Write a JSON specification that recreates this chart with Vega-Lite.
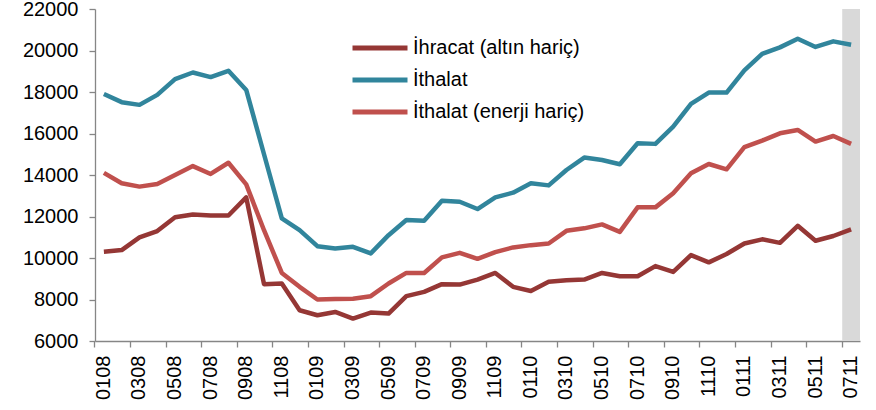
{
  "$schema": "https://vega.github.io/schema/vega-lite/v6.json",
  "width": 765,
  "height": 332,
  "autosize": "none",
  "padding": {"left": 95, "top": 9, "right": 16, "bottom": 69},
  "config": {"view": {"stroke": null}, "font": "Liberation Sans"},
  "data": {
    "values": [
      {"m": "0108", "İhracat (altın hariç)": 10300, "İthalat": 17900, "İthalat (enerji hariç)": 14100},
      {"m": "0208", "İhracat (altın hariç)": 10380, "İthalat": 17510, "İthalat (enerji hariç)": 13600},
      {"m": "0308", "İhracat (altın hariç)": 10990, "İthalat": 17380, "İthalat (enerji hariç)": 13440},
      {"m": "0408", "İhracat (altın hariç)": 11300, "İthalat": 17860, "İthalat (enerji hariç)": 13570},
      {"m": "0508", "İhracat (altın hariç)": 11960, "İthalat": 18620, "İthalat (enerji hariç)": 14000},
      {"m": "0608", "İhracat (altın hariç)": 12100, "İthalat": 18940, "İthalat (enerji hariç)": 14430},
      {"m": "0708", "İhracat (altın hariç)": 12050, "İthalat": 18720, "İthalat (enerji hariç)": 14050},
      {"m": "0808", "İhracat (altın hariç)": 12050, "İthalat": 19020, "İthalat (enerji hariç)": 14590},
      {"m": "0908", "İhracat (altın hariç)": 12920, "İthalat": 18100, "İthalat (enerji hariç)": 13550},
      {"m": "1008", "İhracat (altın hariç)": 8740, "İthalat": 15000, "İthalat (enerji hariç)": 11340},
      {"m": "1108", "İhracat (altın hariç)": 8770, "İthalat": 11910, "İthalat (enerji hariç)": 9280},
      {"m": "1208", "İhracat (altın hariç)": 7480, "İthalat": 11345, "İthalat (enerji hariç)": 8610},
      {"m": "0109", "İhracat (altın hariç)": 7240, "İthalat": 10570, "İthalat (enerji hariç)": 8000},
      {"m": "0209", "İhracat (altın hariç)": 7400, "İthalat": 10460, "İthalat (enerji hariç)": 8020},
      {"m": "0309", "İhracat (altın hariç)": 7080, "İthalat": 10540, "İthalat (enerji hariç)": 8040},
      {"m": "0409", "İhracat (altın hariç)": 7370, "İthalat": 10220, "İthalat (enerji hariç)": 8160},
      {"m": "0509", "İhracat (altın hariç)": 7320, "İthalat": 11100, "İthalat (enerji hariç)": 8770},
      {"m": "0609", "İhracat (altın hariç)": 8160, "İthalat": 11830, "İthalat (enerji hariç)": 9280},
      {"m": "0709", "İhracat (altın hariç)": 8370, "İthalat": 11790, "İthalat (enerji hariç)": 9280},
      {"m": "0809", "İhracat (altın hariç)": 8740, "İthalat": 12760, "İthalat (enerji hariç)": 10030},
      {"m": "0909", "İhracat (altın hariç)": 8720, "İthalat": 12710, "İthalat (enerji hariç)": 10250},
      {"m": "1009", "İhracat (altın hariç)": 8960, "İthalat": 12360, "İthalat (enerji hariç)": 9960},
      {"m": "1109", "İhracat (altın hariç)": 9280, "İthalat": 12920, "İthalat (enerji hariç)": 10280},
      {"m": "1209", "İhracat (altın hariç)": 8610, "İthalat": 13150, "İthalat (enerji hariç)": 10510},
      {"m": "0110", "İhracat (altın hariç)": 8410, "İthalat": 13600, "İthalat (enerji hariç)": 10620},
      {"m": "0210", "İhracat (altın hariç)": 8850, "İthalat": 13500, "İthalat (enerji hariç)": 10700},
      {"m": "0310", "İhracat (altın hariç)": 8930, "İthalat": 14240, "İthalat (enerji hariç)": 11310},
      {"m": "0410", "İhracat (altın hariç)": 8960, "İthalat": 14840, "İthalat (enerji hariç)": 11430},
      {"m": "0510", "İhracat (altın hariç)": 9280, "İthalat": 14720, "İthalat (enerji hariç)": 11620},
      {"m": "0610", "İhracat (altın hariç)": 9120, "İthalat": 14520, "İthalat (enerji hariç)": 11260},
      {"m": "0710", "İhracat (altın hariç)": 9120, "İthalat": 15530, "İthalat (enerji hariç)": 12440},
      {"m": "0810", "İhracat (altın hariç)": 9610, "İthalat": 15500, "İthalat (enerji hariç)": 12440},
      {"m": "0910", "İhracat (altın hariç)": 9330, "İthalat": 16330, "İthalat (enerji hariç)": 13120},
      {"m": "1010", "İhracat (altın hariç)": 10140, "İthalat": 17430, "İthalat (enerji hariç)": 14080},
      {"m": "1110", "İhracat (altın hariç)": 9790, "İthalat": 17970, "İthalat (enerji hariç)": 14530},
      {"m": "1210", "İhracat (altın hariç)": 10190, "İthalat": 17970, "İthalat (enerji hariç)": 14275},
      {"m": "0111", "İhracat (altın hariç)": 10700, "İthalat": 19040, "İthalat (enerji hariç)": 15340},
      {"m": "0211", "İhracat (altın hariç)": 10900, "İthalat": 19840, "İthalat (enerji hariç)": 15660},
      {"m": "0311", "İhracat (altın hariç)": 10730, "İthalat": 20150, "İthalat (enerji hariç)": 16010},
      {"m": "0411", "İhracat (altın hariç)": 11550, "İthalat": 20570, "İthalat (enerji hariç)": 16170},
      {"m": "0511", "İhracat (altın hariç)": 10830, "İthalat": 20170, "İthalat (enerji hariç)": 15610},
      {"m": "0611", "İhracat (altın hariç)": 11060, "İthalat": 20440, "İthalat (enerji hariç)": 15880},
      {"m": "0711", "İhracat (altın hariç)": 11380, "İthalat": 20280, "İthalat (enerji hariç)": 15500}
    ]
  },
  "transform": [
    {"fold": ["İhracat (altın hariç)", "İthalat", "İthalat (enerji hariç)"], "as": ["s", "v"]}
  ],
  "encoding": {
    "x": {
      "field": "m",
      "type": "ordinal",
      "sort": null,
      "scale": {
        "paddingInner": 0,
        "paddingOuter": 0,
        "domain": ["0108","0208","0308","0408","0508","0608","0708","0808","0908","1008","1108","1208","0109","0209","0309","0409","0509","0609","0709","0809","0909","1009","1109","1209","0110","0210","0310","0410","0510","0610","0710","0810","0910","1010","1110","1210","0111","0211","0311","0411","0511","0611","0711"]
      },
      "axis": {
        "title": null,
        "bandPosition": 0,
        "labelExpr": "toNumber(slice(datum.value, 0, 2)) % 2 == 1 ? datum.value : ''",
        "tickOpacity": {"condition": {"test": "toNumber(slice(datum.value, 0, 2)) % 2 == 0", "value": 0}, "value": 1},
        "labelAngle": -90,
        "labelOverlap": false,
        "labelBound": false,
        "labelFlush": false,
        "labelFontSize": 20,
        "labelColor": "#000000",
        "labelPadding": 8,
        "tickSize": 6,
        "tickColor": "#868686",
        "domainColor": "#868686",
        "domainWidth": 1.3,
        "tickWidth": 1.3
      }
    }
  },
  "layer": [
    {
      "transform": [{"filter": "datum.m == '0711' && datum.s == 'İthalat'"}],
      "mark": {"type": "bar", "color": "#D9D9D9"},
      "encoding": {}
    },
    {
      "mark": {"type": "line", "strokeWidth": 4.5, "strokeJoin": "round"},
      "encoding": {
        "y": {
          "field": "v",
          "type": "quantitative",
          "scale": {"domain": [6000, 22000], "nice": false, "zero": false},
          "axis": {
            "title": null,
            "format": "d",
            "values": [6000, 8000, 10000, 12000, 14000, 16000, 18000, 20000, 22000],
            "grid": false,
            "labelFontSize": 20,
            "labelColor": "#000000",
            "labelPadding": 11,
            "labelBound": false,
            "labelFlush": false,
            "tickSize": 6,
            "tickColor": "#868686",
            "domainColor": "#868686",
            "domainWidth": 1.3,
            "tickWidth": 1.3
          }
        },
        "color": {
          "field": "s",
          "type": "nominal",
          "scale": {
            "domain": ["İhracat (altın hariç)", "İthalat", "İthalat (enerji hariç)"],
            "range": ["#953735", "#31859C", "#C0504D"]
          },
          "legend": {
            "title": null,
            "orient": "none",
            "legendX": 275,
            "legendY": 29,
            "padding": 0,
            "symbolType": "M-5.5,0L5.5,0",
            "symbolStrokeWidth": 5,
            "symbolSize": 100,
            "labelFontSize": 20,
            "labelLimit": 0,
            "labelColor": "#000000",
            "labelOffset": 23,
            "rowPadding": 12
          }
        }
      }
    }
  ]
}
